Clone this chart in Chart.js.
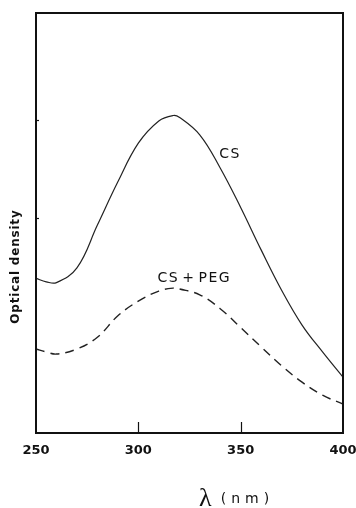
<!DOCTYPE html>
<html>
<head>
<meta charset="utf-8">
<script src="https://cdn.jsdelivr.net/npm/chart.js@4.4.1/dist/chart.umd.min.js"></script>
<style>
html,body{margin:0;padding:0;background:#fff;}
#wrap{width:356px;height:508px;}
</style>
</head>
<body>
<div id="wrap"><canvas id="c" width="356" height="508"></canvas></div>
<script>
// Data (arbitrary optical density units)
const wavelengths = [250, 255, 260, 270, 280, 290, 300, 310, 317, 320, 330, 340, 350, 360, 370, 380, 390, 400];
const csValues    = [0.368, 0.360, 0.358, 0.393, 0.495, 0.598, 0.690, 0.743, 0.756, 0.752, 0.710, 0.631, 0.537, 0.436, 0.340, 0.257, 0.193, 0.133];
const cspegValues = [0.200, 0.193, 0.188, 0.200, 0.228, 0.279, 0.314, 0.338, 0.345, 0.343, 0.329, 0.296, 0.251, 0.205, 0.160, 0.121, 0.090, 0.069];
const xTickLabels = [250, 300, 350, 400];
const seriesLabels = ['CS', 'CS+PEG'];
const labelAnchors = [{x: 344.5, y: 0.663}, {x: 327, y: 0.368}]; // label positions in data units
const yTickMarks = [0.512, 0.745];
const yTitle = 'Optical density';
const xTitleSymbol = 'λ';
const xTitleUnit = '(nm)';

const toPts = (xs, ys) => xs.map((x, i) => ({x, y: ys[i]}));

const framePlugin = {
  id: 'frame',
  afterDraw(chart) {
    const {ctx, chartArea: a, scales} = chart;
    const xs = scales.x, ys = scales.y;
    ctx.save();
    ctx.strokeStyle = '#111';
    ctx.lineWidth = 2;
    ctx.strokeRect(a.left, a.top, a.right - a.left, a.bottom - a.top);
    // inside ticks on x axis
    ctx.lineWidth = 1.2;
    xTickLabels.slice(1, -1).forEach(v => {
      const px = Math.round(xs.getPixelForValue(v)) + 0.5;
      ctx.beginPath(); ctx.moveTo(px, a.bottom); ctx.lineTo(px, a.bottom - 11); ctx.stroke();
    });
    // small ticks on y axis
    yTickMarks.forEach(v => {
      const py = Math.round(ys.getPixelForValue(v)) + 0.5;
      ctx.beginPath(); ctx.moveTo(a.left, py); ctx.lineTo(a.left + 3, py); ctx.stroke();
    });
    // series labels
    ctx.fillStyle = '#111';
    ctx.font = '14px "DejaVu Sans"';
    ctx.textBaseline = 'middle';
    const drawSpaced = (txt, cx, cy, sp, plusSp) => {
      const chars = [...txt];
      const widths = chars.map(c => ctx.measureText(c).width);
      const gaps = chars.map((c, i) => i === chars.length - 1 ? 0 :
        (c === '+' || chars[i + 1] === '+') ? (plusSp || sp) : sp);
      const total = widths.reduce((s, w) => s + w, 0) + gaps.reduce((s, g) => s + g, 0);
      let x = cx - total / 2;
      ctx.textAlign = 'left';
      chars.forEach((c, i) => { ctx.fillText(c, x, cy); x += widths[i] + gaps[i]; });
    };
    seriesLabels.forEach((lab, i) => {
      const p = labelAnchors[i];
      drawSpaced(lab, xs.getPixelForValue(p.x), ys.getPixelForValue(p.y), 1.5, 4.5);
    });
    // y title
    ctx.save();
    ctx.translate(16, (a.top + a.bottom) / 2 + 44);
    ctx.rotate(-Math.PI / 2);
    ctx.font = 'bold 12px "DejaVu Sans"';
    drawSpaced(yTitle, 0, 0, 0.8);
    ctx.restore();
    // x title
    ctx.textBaseline = 'alphabetic';
    ctx.textAlign = 'left';
    ctx.font = '26px "Liberation Serif"';
    const lx = a.left + 163;
    ctx.fillText(xTitleSymbol, lx, 506);
    ctx.font = '14px "DejaVu Sans"';
    drawSpaced(xTitleUnit, lx + 46, 503, 5);
    ctx.restore();
  }
};

new Chart(document.getElementById('c'), {
  type: 'line',
  data: {
    datasets: [
      {
        label: seriesLabels[0],
        data: toPts(wavelengths, csValues),
        borderColor: '#222',
        borderWidth: 1.2,
        pointRadius: 0,
        fill: false,
        tension: 0.4
      },
      {
        label: seriesLabels[1],
        data: toPts(wavelengths, cspegValues),
        borderColor: '#222',
        borderWidth: 1.4,
        borderDash: [9, 6],
        pointRadius: 0,
        fill: false,
        tension: 0.4
      }
    ]
  },
  options: {
    responsive: false,
    animation: false,
    devicePixelRatio: 1,
    layout: {padding: {top: 13, right: 13, left: 0, bottom: 0}},
    plugins: {legend: {display: false}, tooltip: {enabled: false}},
    scales: {
      x: {
        type: 'linear',
        min: 250,
        max: 400,
        afterBuildTicks: s => { s.ticks = xTickLabels.map(v => ({value: v})); },
        afterFit: s => { s.height = 75; s.paddingLeft = 0; s.paddingRight = 0; },
        grid: {display: false, drawTicks: false},
        border: {display: false},
        ticks: {
          color: '#111',
          font: {family: '"DejaVu Sans"', size: 13, weight: 'bold'},
          padding: 10,
          maxRotation: 0,
          autoSkip: false
        }
      },
      y: {
        min: 0,
        max: 1,
        afterFit: s => { s.width = 36; s.paddingTop = 0; s.paddingBottom = 0; },
        grid: {display: false, drawTicks: false},
        border: {display: false},
        ticks: {display: false}
      }
    }
  },
  plugins: [framePlugin]
});
</script>
</body>
</html>
